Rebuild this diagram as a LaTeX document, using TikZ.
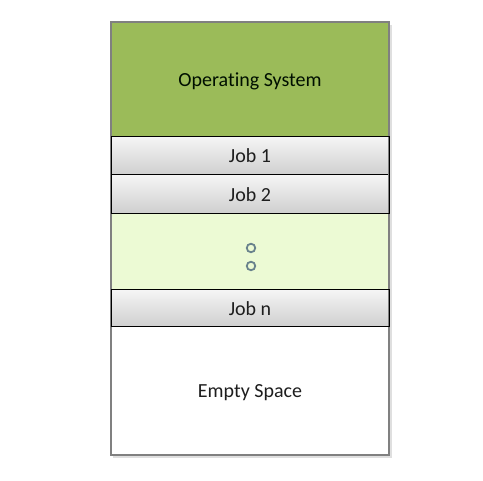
\documentclass[tikz,border=0pt]{standalone}
\usepackage{fontspec}
\setmainfont[Ligatures=NoCommon]{Carlito}
\usetikzlibrary{positioning}
\definecolor{osgreen}{RGB}{155,187,89}
\definecolor{palegreen}{RGB}{236,250,212}
\definecolor{frame}{RGB}{128,128,128}
\definecolor{inktext}{RGB}{30,30,30}
\definecolor{dotgrey}{RGB}{105,130,140}
\begin{document}
\begin{tikzpicture}[x=1pt,y=-1pt,
    every node/.style={inner sep=0pt,outer sep=0pt,text=inktext,font=\fontsize{20}{22}\selectfont},
    node distance=0pt,
    segment/.style={rectangle,minimum width=278pt,text depth=0pt},
    jobbox/.style={segment,draw=black,line width=1pt,top color=gray!8,bottom color=gray!38},
    dot/.style={circle,draw=dotgrey,line width=1.8pt,minimum size=8.5pt}]
  \useasboundingbox (0,0) rectangle (483,481);
  % shadow behind the stack
  \fill[gray!25] (113,25) rectangle (392,458);
  \node[segment,fill=osgreen,minimum height=115pt,text=black!85!green!40!black] (os) at (250,79.5) {Operating System};
  \node[jobbox,minimum height=38pt,below=of os] (job1) {Job 1};
  \node[jobbox,minimum height=39pt,below=of job1] (job2) {Job 2};
  \node[segment,fill=palegreen,minimum height=76pt,below=of job2] (gap) {};
  \node[jobbox,minimum height=37pt,below=of gap] (jobn) {Job n};
  \node[segment,fill=white,minimum height=128pt,below=of jobn] (empty) {Empty Space};
  \node[dot] (dotA) at (251,248) {};
  \node[dot] (dotB) at (251,266) {};
  % outer frame
  \draw[frame,line width=1.5pt] (os.north west) rectangle (empty.south east);
  \draw[black,line width=1pt] (job1.north west) rectangle (job2.south east);
  \draw[black,line width=1pt] (jobn.north west) rectangle (jobn.south east);
\end{tikzpicture}
\end{document}
